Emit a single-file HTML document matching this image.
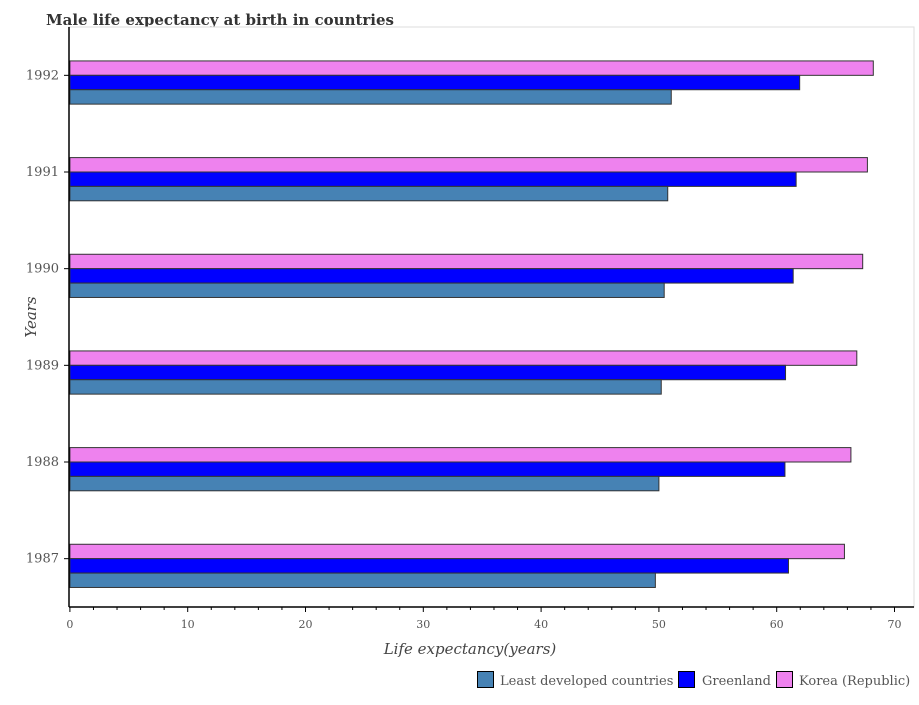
<!DOCTYPE html>
<html><head><meta charset="utf-8"><style>
body{margin:0;background:#fff;}
svg text{font-family:"DejaVu Serif","Liberation Serif",serif;}
</style></head><body>
<svg width="919" height="700">
<text x="46" y="25" font-size="15" font-weight="bold" fill="#333">Male life expectancy at birth in countries</text>
<g id="plot"></g>
<text x="470" y="654" font-size="15" font-style="italic" fill="#444" text-anchor="middle">Life expectancy(years)</text>
<text x="36" y="317" font-size="15" font-style="italic" fill="#444" text-anchor="middle" transform="rotate(-90 36 317)">Years</text>
<g>
<rect x="477.5" y="671.5" width="16" height="16" fill="#4682b4" stroke="#000"/>
<text x="500" y="685" font-size="13" fill="#555">Least developed countries</text>
<rect x="678.5" y="671.5" width="16" height="16" fill="#0000ff" stroke="#000"/>
<text x="702" y="685" font-size="13" fill="#555">Greenland</text>
<rect x="776.5" y="671.5" width="16" height="16" fill="#ee82ee" stroke="#000"/>
<text x="799" y="685" font-size="13" fill="#555">Korea (Republic)</text>
</g>
</svg>
<script>
const years=["1987","1988","1989","1990","1991","1992"];
const least=[49.7,50.0,50.2,50.45,50.75,51.05];
const greenland=[61.0,60.7,60.75,61.4,61.65,61.95];
const korea=[65.75,66.3,66.8,67.3,67.7,68.2];
const xTicks=[0,10,20,30,40,50,60,70];
const NS="http://www.w3.org/2000/svg";
const g=document.getElementById('plot');
const x0=69.9,sc=11.78,plotTop=27,plotBot=607,plotLeft=69,plotRight=914;
const band=(plotBot-plotTop)/years.length;
const xs=v=>x0+v*sc;
const yc=i=>plotBot-band*(i+0.5);
function mk(t,a){const e=document.createElementNS(NS,t);for(const k in a)e.setAttribute(k,a[k]);g.appendChild(e);return e;}
const bg=mk('rect',{x:plotLeft,y:plotTop,width:plotRight-plotLeft,height:plotBot-plotTop,fill:'#fff',stroke:'#ddd'});


const series=[[korea,'#ee82ee','korea'],[greenland,'#0000ff','greenland'],[least,'#4682b4','least-developed']];
const bh=14.4;
years.forEach((yr,i)=>{
  const c=yc(i);
  series.forEach((s,j)=>{
    const r=mk('rect',{x:xs(0),y:c-bh+j*bh,width:xs(s[0][i])-xs(0),height:bh,fill:s[1],stroke:'#333','stroke-width':1});
    
    
  });
  const tk=mk('line',{x1:plotLeft-5,x2:plotLeft,y1:c,y2:c,stroke:'#000'});
  
  
  const t=mk('text',{x:plotLeft-10,y:c+4,'font-size':13,fill:'#555','text-anchor':'end'});
  t.textContent=yr;
  
  
});
const ax=mk('line',{x1:plotLeft,x2:plotLeft,y1:plotTop,y2:plotBot,stroke:'#000','stroke-width':1.5});


const bx=mk('line',{x1:plotLeft,x2:plotRight,y1:plotBot,y2:plotBot,stroke:'#000','stroke-width':1.5});


for(let v=0;v<=70;v+=2){
  const m=mk('line',{x1:xs(v),x2:xs(v),y1:plotBot,y2:plotBot+(v%10===0?5:3),stroke:'#000'});
  
  
}
xTicks.forEach(v=>{
  const t=mk('text',{x:xs(v),y:628,'font-size':11,fill:'#555','text-anchor':'middle'});
  t.textContent=v;
  
  
});
</script>
</body></html>
